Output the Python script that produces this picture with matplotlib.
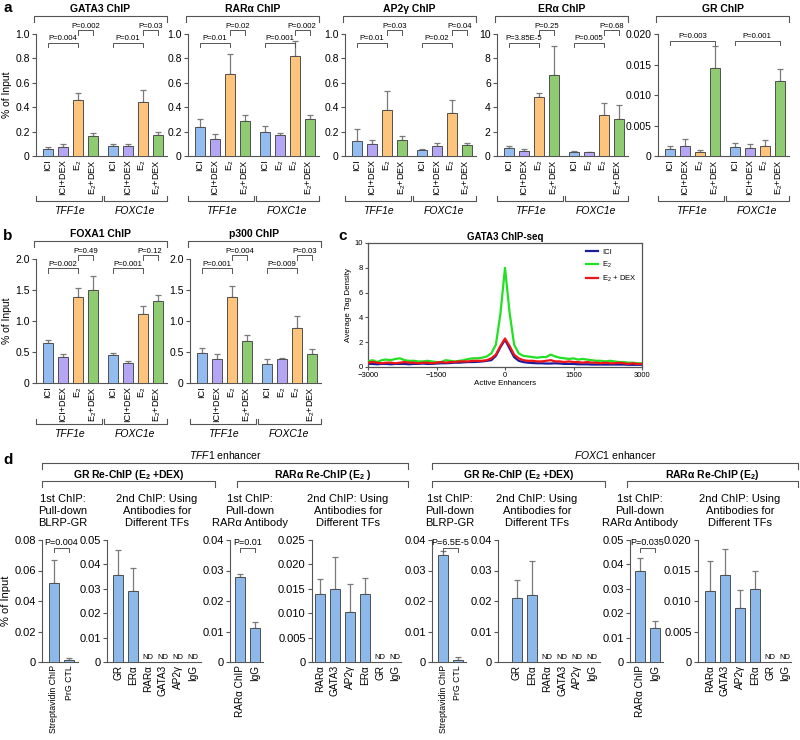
import matplotlib
matplotlib.use("Agg")
import matplotlib.pyplot as plt
import matplotlib.transforms as mtransforms
from matplotlib.lines import Line2D
from matplotlib.font_manager import FontProperties, findfont
import numpy as np

W, H = 800, 740


def pick_font():
    for name in ["Liberation Sans Narrow", "Liberation Sans", "DejaVu Sans"]:
        try:
            findfont(FontProperties(family=name), fallback_to_default=False)
            return name
        except ValueError:
            pass
    return "DejaVu Sans"


FONT = pick_font()
plt.rcParams["font.family"] = [FONT, "DejaVu Sans"]
plt.rcParams["mathtext.fontset"] = "custom"
plt.rcParams["mathtext.rm"] = FONT
plt.rcParams["mathtext.it"] = FONT + ":italic"
plt.rcParams["mathtext.bf"] = FONT + ":bold"
plt.rcParams["mathtext.default"] = "regular"

# ── data: panel a / b (TFF1e x4 then FOXC1e x4) ─────────────────────────────
LAB_FULL = ["ICI", "ICI+DEX", "E$_2$", "E$_2$+DEX"]
LAB_ALT = ["ICI", "E$_2$", "E$_2$", "E$_2$+DEX"]
GROUPS = ["TFF1e", "FOXC1e"]

gata3_mean = [0.06, 0.07, 0.46, 0.16, 0.08, 0.08, 0.44, 0.17]
gata3_err = [0.01, 0.03, 0.06, 0.03, 0.02, 0.02, 0.10, 0.03]
gata3_p = ["0.004", "0.002", "0.01", "0.03"]

rara_mean = [0.24, 0.14, 0.67, 0.29, 0.20, 0.17, 0.82, 0.30]
rara_err = [0.06, 0.04, 0.17, 0.05, 0.05, 0.02, 0.12, 0.04]
rara_p = ["0.01", "0.02", "0.001", "0.002"]

ap2g_mean = [0.12, 0.10, 0.38, 0.13, 0.05, 0.08, 0.35, 0.09]
ap2g_err = [0.10, 0.03, 0.15, 0.03, 0.01, 0.03, 0.11, 0.02]
ap2g_p = ["0.01", "0.03", "0.02", "0.04"]

era_mean = [0.65, 0.45, 4.80, 6.60, 0.35, 0.30, 3.40, 3.00]
era_err = [0.20, 0.10, 0.35, 2.40, 0.05, 0.05, 0.95, 1.20]
era_p = ["3.85E-5", "0.25", "0.005", "0.68"]

gr_mean = [0.0012, 0.0016, 0.0006, 0.0145, 0.0015, 0.0013, 0.0017, 0.0123]
gr_err = [0.0004, 0.0012, 0.0004, 0.0035, 0.0007, 0.0006, 0.0010, 0.0020]
gr_p = ["0.003", "0.001"]

foxa1_mean = [0.64, 0.42, 1.38, 1.50, 0.45, 0.32, 1.12, 1.32]
foxa1_err = [0.06, 0.04, 0.16, 0.22, 0.04, 0.04, 0.13, 0.10]
foxa1_p = ["0.002", "0.49", "0.001", "0.12"]

p300_mean = [0.48, 0.38, 1.38, 0.67, 0.30, 0.38, 0.88, 0.46]
p300_err = [0.08, 0.08, 0.18, 0.10, 0.08, 0.02, 0.20, 0.09]
p300_p = ["0.001", "0.004", "0.009", "0.03"]

# ── data: panel c (GATA3 ChIP-seq profiles, 100 bp bins) ────────────────────
seq_pos = list(range(-3000, 3001, 100))
seq_ici = [0.25, 0.25, 0.22, 0.25, 0.25, 0.22, 0.25, 0.25, 0.25, 0.22,
           0.25, 0.25, 0.28, 0.25, 0.25, 0.28, 0.3, 0.3, 0.32, 0.35,
           0.35, 0.38, 0.4, 0.4, 0.42, 0.45, 0.5, 0.55, 0.9, 1.6,
           2.2, 1.5, 0.8, 0.5, 0.4, 0.35, 0.32, 0.3, 0.3, 0.28,
           0.28, 0.3, 0.28, 0.25, 0.25, 0.25, 0.22, 0.22, 0.22, 0.2,
           0.2, 0.2, 0.2, 0.2, 0.2, 0.2, 0.2, 0.18, 0.18, 0.18, 0.18]
seq_e2 = [0.45, 0.55, 0.4, 0.55, 0.6, 0.55, 0.65, 0.7, 0.55, 0.5,
          0.5, 0.45, 0.45, 0.5, 0.45, 0.4, 0.4, 0.55, 0.5, 0.45,
          0.5, 0.55, 0.65, 0.7, 0.7, 0.75, 0.85, 1.1, 1.8, 4.3,
          8.0, 4.4, 1.8, 1.1, 0.9, 0.85, 0.8, 0.75, 0.8, 0.8,
          1.0, 0.85, 0.75, 0.7, 0.65, 0.7, 0.6, 0.65, 0.6, 0.55,
          0.5, 0.5, 0.45, 0.5, 0.45, 0.4, 0.4, 0.35, 0.35, 0.3, 0.3]
seq_e2dex = [0.35, 0.4, 0.35, 0.3, 0.35, 0.35, 0.3, 0.35, 0.4, 0.35,
             0.35, 0.3, 0.35, 0.35, 0.3, 0.35, 0.4, 0.35, 0.4, 0.4,
             0.45, 0.45, 0.45, 0.5, 0.5, 0.5, 0.55, 0.7, 1.0, 1.7,
             2.3, 1.7, 1.0, 0.7, 0.55, 0.5, 0.5, 0.45, 0.45, 0.5,
             0.55, 0.45, 0.45, 0.4, 0.45, 0.4, 0.4, 0.35, 0.4, 0.35,
             0.35, 0.3, 0.35, 0.3, 0.3, 0.35, 0.3, 0.25, 0.3, 0.25, 0.25]

# ── data: panel d (None = ND) ───────────────────────────────────────────────
d_first_labels = ["Streptavidin ChIP", "PrG CTL"]
d_rar_first_labels = ["RAR\u03b1 ChIP", "IgG"]
d_gr_second_labels = ["GR", "ER\u03b1", "RAR\u03b1", "GATA3", "AP2\u03b3", "IgG"]
d_rar_second_labels = ["RAR\u03b1", "GATA3", "AP2\u03b3", "ER\u03b1", "GR", "IgG"]

tff1_gr1_mean = [0.052, 0.0015]
tff1_gr1_err = [0.015, 0.001]
tff1_gr1_p = "0.004"
tff1_gr2_mean = [0.0355, 0.029, None, None, None, None]
tff1_gr2_err = [0.0105, 0.0095, 0, 0, 0, 0]
tff1_rar1_mean = [0.028, 0.0113]
tff1_rar1_err = [0.001, 0.0018]
tff1_rar1_p = "0.01"
tff1_rar2_mean = [0.014, 0.015, 0.0103, 0.014, None, None]
tff1_rar2_err = [0.003, 0.0065, 0.0057, 0.0032, 0, 0]

foxc1_gr1_mean = [0.035, 0.0008]
foxc1_gr1_err = [0.0015, 0.001]
foxc1_gr1_p = "6.5E-5"
foxc1_gr2_mean = [0.021, 0.022, None, None, None, None]
foxc1_gr2_err = [0.006, 0.011, 0, 0, 0, 0]
foxc1_rar1_mean = [0.0375, 0.014]
foxc1_rar1_err = [0.005, 0.003]
foxc1_rar1_p = "0.035"
foxc1_rar2_mean = [0.0116, 0.0143, 0.0088, 0.012, None, None]
foxc1_rar2_err = [0.005, 0.0043, 0.003, 0.003, 0, 0]

# ── styles ──────────────────────────────────────────────────────────────────
COND_COLORS = ["#93bdf0", "#b4a6f4", "#ffc47c", "#8fcb70"]
D_COLOR = "#8cb8ea"
EDGE = "#4f4f4f"
ERR = "#7a7a7a"
LINE = "#555555"
TICK_FS = 7.5

fig = plt.figure(figsize=(W / 100, H / 100), dpi=100)


def fx(px):
    return px / W


def fy(py):
    return 1 - py / H


def add_ax(left, top, width, height):
    return fig.add_axes([fx(left), fy(top + height), width / W, height / H])


def fig_line(xs, ys, transform=None, lw=0.8):
    fig.add_artist(Line2D(xs, ys, color=LINE, lw=lw,
                          transform=transform or fig.transFigure))


def top_bracket(x0, x1, ypx, label, ypx_text, fs=7.5, weight="bold"):
    fig_line([fx(x0), fx(x0), fx(x1), fx(x1)],
             [fy(ypx + 6), fy(ypx), fy(ypx), fy(ypx + 6)])
    fig.text(fx((x0 + x1) / 2), fy(ypx_text), label, ha="center", va="center",
             fontsize=fs, fontweight=weight)


def style_ax(ax, ylim, yticks, yticklabels):
    for s in ["top", "right"]:
        ax.spines[s].set_visible(False)
    for s in ["left", "bottom"]:
        ax.spines[s].set_color(LINE)
        ax.spines[s].set_linewidth(0.8)
    ax.set_ylim(*ylim)
    ax.set_yticks(yticks)
    ax.set_yticklabels(yticklabels, fontsize=TICK_FS)
    ax.tick_params(axis="y", length=3, width=0.8, color=LINE, pad=1.5)
    ax.tick_params(axis="x", length=0, pad=2.5, labelsize=6.6)


def draw_bars(ax, xs, means, errs, colors):
    m = np.array([np.nan if v is None else v for v in means], dtype=float)
    e = np.array(errs, dtype=float)
    ax.bar(xs, m, width=0.68, color=colors, edgecolor=EDGE, linewidth=0.7, zorder=3)
    ok = ~np.isnan(m)
    ax.errorbar(np.asarray(xs)[ok], m[ok], yerr=[np.zeros(ok.sum()), e[ok]],
                fmt="none", ecolor=ERR, elinewidth=0.9, capsize=2.2,
                capthick=0.9, zorder=2)
    return m


def p_bracket(ax, x0, x1, y, text, ymax, fs=5.6):
    t = 0.035 * ymax
    ax.plot([x0, x0, x1, x1], [y - t, y, y, y - t], color=LINE, lw=0.7,
            clip_on=False)
    ax.text((x0 + x1) / 2, y + 0.005 * ymax, "P=" + text, ha="center",
            va="bottom", fontsize=fs, clip_on=False)


XPOS = np.r_[np.arange(4), np.arange(4) + 4.33]


def chip_panel(left, top, height, title, means, errs, pvals, ymax, yticks,
               yticklabels, labels2, group_y, ylabel=False, gr_mode=False,
               width=131):
    ax = add_ax(left, top, width, height)
    draw_bars(ax, XPOS, means, errs, COND_COLORS * 2)
    style_ax(ax, (0, ymax), yticks, yticklabels)
    ax.set_xlim(-0.8, 7.95)
    ax.set_xticks(XPOS)
    ax.set_xticklabels(LAB_FULL + labels2, rotation=90, va="top")
    if ylabel:
        ax.set_ylabel("% of Input", fontsize=TICK_FS, labelpad=2)
    if gr_mode:
        for g in range(2):
            b = XPOS[4 * g]
            p_bracket(ax, b, b + 3, 0.945 * ymax, pvals[g], ymax)
    else:
        for g in range(2):
            b = XPOS[4 * g]
            p_bracket(ax, b, b + 2, 0.926 * ymax, pvals[2 * g], ymax)
            p_bracket(ax, b + 2, b + 3, 1.03 * ymax, pvals[2 * g + 1], ymax)
    # title bracket
    top_bracket(left - 2, left + width, top - 18, title, top - 25)
    # group brackets under tick labels
    tr = mtransforms.blended_transform_factory(ax.transData, fig.transFigure)
    spans = [(-0.8, 3.62), (3.72, 7.95)]
    for (a, b), name in zip(spans, GROUPS):
        fig_line([a, a, b, b], [fy(group_y - 5), fy(group_y), fy(group_y),
                                fy(group_y - 5)], transform=tr)
        ax.text((a + b) / 2, fy(group_y + 10), name, transform=tr, ha="center",
                va="center", fontsize=TICK_FS, style="italic")
    return ax


# ── panel a ─────────────────────────────────────────────────────────────────
fr = [0, 0.2, 0.4, 0.6, 0.8, 1.0]
frl = ["0", "0.2", "0.4", "0.6", "0.8", "1.0"]
chip_panel(36, 34, 122, "GATA3 ChIP", gata3_mean, gata3_err, gata3_p, 1.0, fr, frl,
           LAB_FULL, 201, ylabel=True)
chip_panel(188, 34, 122, "RAR\u03b1 ChIP", rara_mean, rara_err, rara_p, 1.0, fr, frl,
           LAB_ALT, 201)
chip_panel(345, 34, 122, "AP2\u03b3 ChIP", ap2g_mean, ap2g_err, ap2g_p, 1.0, fr, frl,
           LAB_FULL, 201)
chip_panel(497, 34, 122, "ER\u03b1 ChIP", era_mean, era_err, era_p, 10,
           [0, 2, 4, 6, 8, 10], ["0", "2", "4", "6", "8", "10"], LAB_ALT, 201)
chip_panel(658, 34, 122, "GR ChIP", gr_mean, gr_err, gr_p, 0.02,
           [0, 0.005, 0.01, 0.015, 0.02], ["0", "0.005", "0.010", "0.015", "0.020"],
           LAB_FULL, 201, gr_mode=True)

# ── panel b ─────────────────────────────────────────────────────────────────
fb = [0, 0.5, 1.0, 1.5, 2.0]
fbl = ["0", "0.5", "1.0", "1.5", "2.0"]
chip_panel(36, 259, 124, "FOXA1 ChIP", foxa1_mean, foxa1_err, foxa1_p, 2.0, fb, fbl,
           LAB_FULL, 424, ylabel=True)
chip_panel(190, 259, 124, "p300 ChIP", p300_mean, p300_err, p300_p, 2.0, fb, fbl,
           LAB_ALT, 424)

# ── panel c ─────────────────────────────────────────────────────────────────
axc = add_ax(368, 243, 274, 124)
axc.plot(seq_pos, seq_ici, color="#1b1b9e", lw=1.6, label="ICI", zorder=2)
axc.plot(seq_pos, seq_e2, color="#22e022", lw=1.6, label="E$_2$", zorder=3)
axc.plot(seq_pos, seq_e2dex, color="#f01414", lw=1.6, label="E$_2$ + DEX", zorder=4)
axc.set_xlim(-3000, 3000)
axc.set_ylim(0, 10)
axc.set_xticks([-3000, -1500, 0, 1500, 3000])
axc.set_yticks([0, 2, 4, 6, 8, 10])
axc.tick_params(labelsize=5.5, length=2.5, width=0.8, color=LINE, pad=1)
for s in axc.spines.values():
    s.set_color(LINE)
    s.set_linewidth(0.9)
axc.set_xlabel("Active Enhancers", fontsize=5.8, labelpad=1)
axc.set_ylabel("Average Tag Density", fontsize=5.8, labelpad=2)
axc.set_title("GATA3 ChIP-seq", fontsize=7, fontweight="bold", pad=2)
axc.legend(loc="upper right", frameon=False, fontsize=5.5, handlelength=1.6,
           labelspacing=0.5, borderaxespad=0.3, handletextpad=0.5)

# ── panel d ─────────────────────────────────────────────────────────────────
D_TOP, D_H = 540, 122


def d_panel(left, lead, n, trail, means, errs, labels, ymax, yticks, yticklabels,
            pval=None, ylabel=False, xfs=7.2):
    step = 15.0
    width = lead + (n - 1) * step + trail
    ax = add_ax(left, D_TOP, width, D_H)
    xs = np.arange(n)
    m = draw_bars(ax, xs, means, errs, [D_COLOR] * n)
    style_ax(ax, (0, ymax), yticks, yticklabels)
    ax.tick_params(axis="y", labelsize=8)
    ax.tick_params(axis="x", labelsize=xfs, pad=2)
    ax.set_xlim(-lead / step, n - 1 + trail / step)
    ax.set_xticks(xs)
    ax.set_xticklabels(labels, rotation=90, va="top")
    for x, v in zip(xs, m):
        if np.isnan(v):
            ax.text(x, 0.012 * ymax, "ND", ha="center", va="bottom", fontsize=5.5)
    if pval is not None:
        p_bracket(ax, 0, 1, 0.935 * ymax, pval, ymax, fs=6.5)
    if ylabel:
        ax.set_ylabel("% of Input", fontsize=8, labelpad=2)
    return ax


d_panel(42, 12, 2, 9, tff1_gr1_mean, tff1_gr1_err, d_first_labels, 0.08,
        [0, 0.02, 0.04, 0.06, 0.08], ["0", "0.02", "0.04", "0.06", "0.08"],
        pval=tff1_gr1_p, ylabel=True, xfs=6.3)
d_panel(107, 11, 6, 8, tff1_gr2_mean, tff1_gr2_err, d_gr_second_labels, 0.05,
        [0, 0.01, 0.02, 0.03, 0.04, 0.05],
        ["0", "0.01", "0.02", "0.03", "0.04", "0.05"])
d_panel(230, 10, 2, 8, tff1_rar1_mean, tff1_rar1_err, d_rar_first_labels, 0.04,
        [0, 0.01, 0.02, 0.03, 0.04], ["0", "0.01", "0.02", "0.03", "0.04"],
        pval=tff1_rar1_p)
d_panel(312, 8, 6, 6, tff1_rar2_mean, tff1_rar2_err, d_rar_second_labels, 0.025,
        [0, 0.005, 0.01, 0.015, 0.02, 0.025],
        ["0", "0.005", "0.010", "0.015", "0.020", "0.025"])
d_panel(432, 11, 2, 8, foxc1_gr1_mean, foxc1_gr1_err, d_first_labels, 0.04,
        [0, 0.01, 0.02, 0.03, 0.04], ["0", "0.01", "0.02", "0.03", "0.04"],
        pval=foxc1_gr1_p, xfs=6.3)
d_panel(498, 19, 6, 8, foxc1_gr2_mean, foxc1_gr2_err, d_gr_second_labels, 0.04,
        [0, 0.01, 0.02, 0.03, 0.04], ["0", "0.01", "0.02", "0.03", "0.04"])
d_panel(630, 10, 2, 8, foxc1_rar1_mean, foxc1_rar1_err, d_rar_first_labels, 0.05,
        [0, 0.01, 0.02, 0.03, 0.04, 0.05],
        ["0", "0.01", "0.02", "0.03", "0.04", "0.05"], pval=foxc1_rar1_p)
d_panel(698, 12, 6, 6, foxc1_rar2_mean, foxc1_rar2_err, d_rar_second_labels, 0.02,
        [0, 0.005, 0.01, 0.015, 0.02], ["0", "0.005", "0.010", "0.015", "0.020"])

# headers for panel d
top_bracket(42, 408, 463, "$\\it{TFF1}$ enhancer", 455, weight="normal")
top_bracket(432, 798, 463, "$\\it{FOXC1}$ enhancer", 455, weight="normal")
top_bracket(42, 215, 481, "GR Re-ChIP ($\\mathbf{E_2}$ +DEX)", 475)
top_bracket(237, 408, 481, "RAR\u03b1 Re-ChIP ($\\mathbf{E_2}$ )", 475)
top_bracket(432, 605, 481, "GR Re-ChIP ($\\mathbf{E_2}$ +DEX)", 475)
top_bracket(627, 798, 481, "RAR\u03b1 Re-ChIP ($\\mathbf{E_2}$)", 475)
for xc in [63, 450]:
    fig.text(fx(xc), fy(511), "1st ChIP:\nPull-down\nBLRP-GR", ha="center",
             va="center", fontsize=8, linespacing=1.3)
for xc in [250, 640]:
    fig.text(fx(xc), fy(511), "1st ChIP:\nPull-down\nRAR\u03b1 Antibody", ha="center",
             va="center", fontsize=8, linespacing=1.3)
for xc in [157, 348, 537, 740]:
    fig.text(fx(xc), fy(511), "2nd ChIP: Using\nAntibodies for\nDifferent TFs",
             ha="center", va="center", fontsize=8, linespacing=1.3)

# panel letters
for letter, x, y in [("a", 3, 8), ("b", 3, 236), ("c", 338, 236), ("d", 3, 460)]:
    fig.text(fx(x), fy(y), letter, fontsize=11, fontweight="bold", va="center")

fig.savefig("out.png", dpi=100)
